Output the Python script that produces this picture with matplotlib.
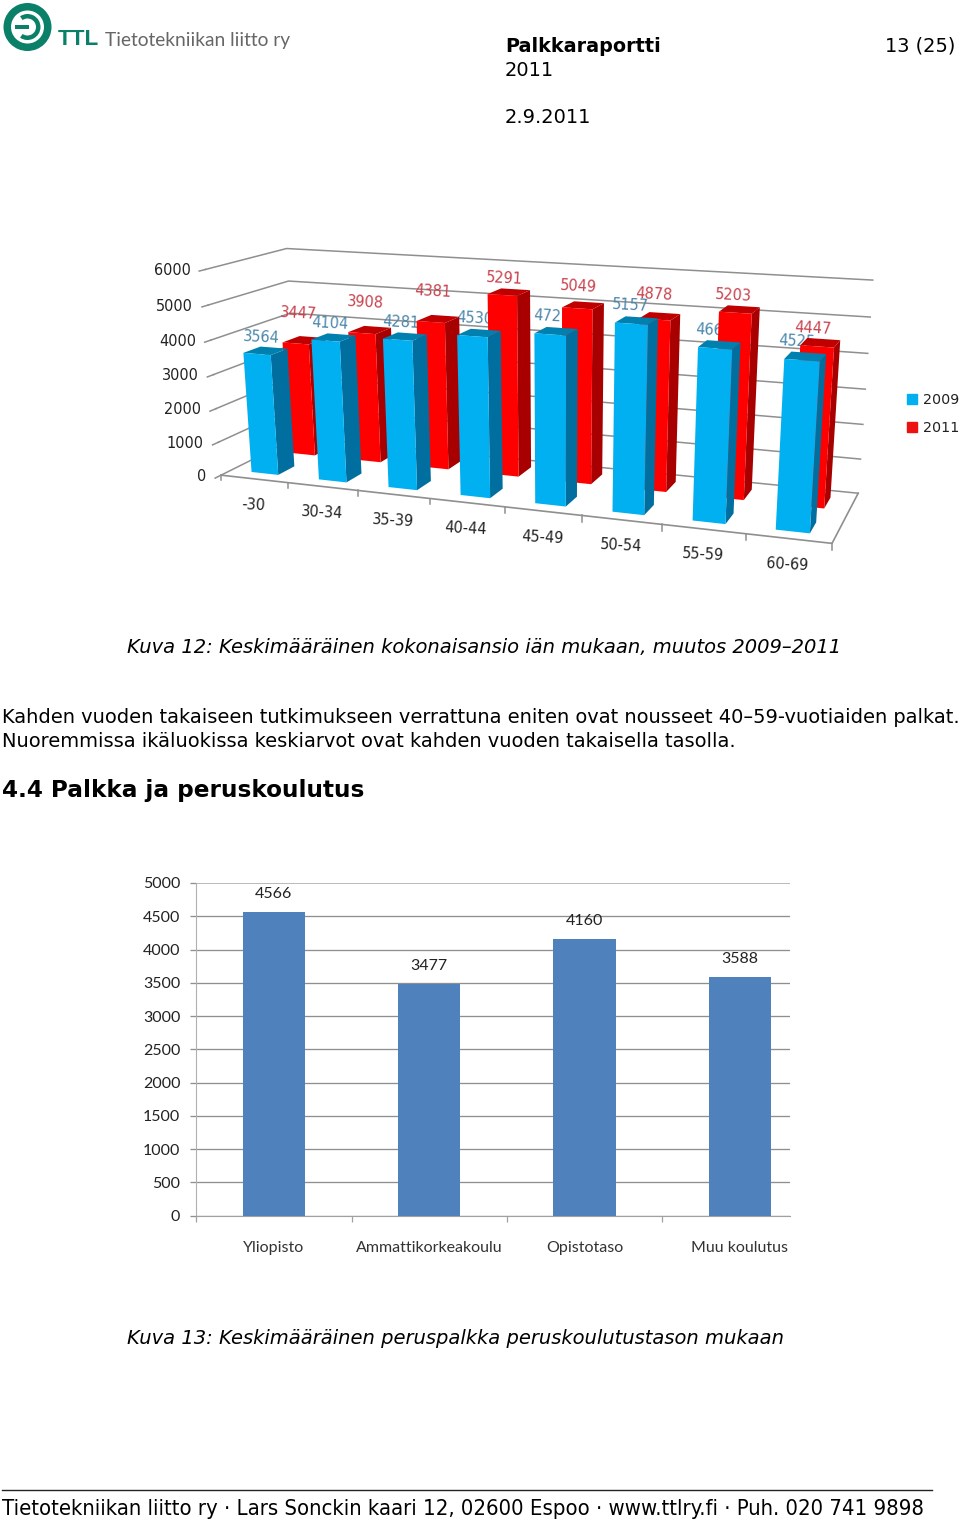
import numpy as np
import matplotlib
matplotlib.use("Agg")
import matplotlib.pyplot as plt
from matplotlib.patches import Polygon, Wedge, Rectangle, Patch

filename = "out.png"

#######data
ages = ["-30", "30-34", "35-39", "40-44", "45-49", "50-54", "55-59", "60-69"]
pay2009 = [3564, 4104, 4281, 4530, 4727, 5157, 4669, 4525]
pay2011 = [3447, 3908, 4381, 5291, 5049, 4878, 5203, 4447]
ticks3d = [0, 1000, 2000, 3000, 4000, 5000, 6000]

edu = ["Yliopisto", "Ammattikorkeakoulu", "Opistotaso", "Muu koulutus"]
edupay = [4566, 3477, 4160, 3588]
ticks2d = [0, 500, 1000, 1500, 2000, 2500, 3000, 3500, 4000, 4500, 5000]

#######camera of the 3d chart: (category, depth, value) -> page pixel
world = [(0, 0, 0), (1, 0, 0), (2, 0, 0), (3, 0, 0), (4, 0, 0), (5, 0, 0), (6, 0, 0), (7, 0, 0),
         (8, 0, 0), (8, 1, 0), (0, 1, 0), (0, 0, 6000), (0, 1, 6000), (8, 1, 6000)]
page = [(220, 475), (288, 483), (358, 491), (430, 499), (505, 507), (582, 516), (662, 525), (746, 533),
        (832, 542), (858, 494), (299, 436), (207, 269), (285, 249), (873, 280)]

#label nudges in pixels, excel moved these around by itself
nudge2009 = [(4, -4), (3, -4), (2, -4), (1, -4), (1, -4), (-2, -4), (-3, -4), (-7, -4)]
nudge2011 = [(5, -16), (6, -16), (4, -16), (4, -1), (2, -6), (0, -9), (-2, -1), (-4, -2)]


def fit_camera(world, page):
    #plain DLT, scaled so the numbers stay near 1
    rows = []
    for (x, d, v), (u, w) in zip(world, page):
        X = [x / 8, d, v / 6000, 1]
        u, w = u / 1000, w / 1000
        rows.append(X + [0, 0, 0, 0] + [-u * c for c in X])
        rows.append([0, 0, 0, 0] + X + [-w * c for c in X])
    return np.linalg.svd(np.array(rows))[2][-1].reshape(3, 4)


P = fit_camera(world, page)


def pr(x, d, v):
    h = P @ np.array([x / 8, d, v / 6000, 1])
    return (1000 * h[0] / h[2], 1000 * h[1] / h[2])


def px(n):
    #font size for n pixels at dpi 100
    return n * 0.72


fig = plt.figure(figsize=(9.6, 15.2), dpi=100)
ax = fig.add_axes([0, 0, 1, 1])
ax.set_xlim(0, 960)
ax.set_ylim(1520, 0)
ax.axis("off")

#######page text
BODY = 19.4
ax.text(505, 52, "Palkkaraportti", fontsize=px(19.2), fontweight="bold")
ax.text(505, 76, "2011", fontsize=px(BODY))
ax.text(505, 123, "2.9.2011", fontsize=px(BODY))
ax.text(955, 52, "13 (25)", fontsize=px(BODY), ha="right")
ax.text(127, 653, "Kuva 12: Keskimääräinen kokonaisansio iän mukaan, muutos 2009–2011",
        fontsize=px(19.5), style="italic")
ax.text(2, 723, "Kahden vuoden takaiseen tutkimukseen verrattuna eniten ovat nousseet 40–59-vuotiaiden palkat.",
        fontsize=px(BODY))
ax.text(2, 747, "Nuoremmissa ikäluokissa keskiarvot ovat kahden vuoden takaisella tasolla.", fontsize=px(BODY))
ax.text(2, 797, "4.4 Palkka ja peruskoulutus", fontsize=px(23.1), fontweight="bold")
ax.text(127, 1344, "Kuva 13: Keskimääräinen peruspalkka peruskoulutustason mukaan", fontsize=px(19.5), style="italic")
ax.plot([2, 932], [1490, 1490], color="#222222", lw=1.0)
ax.text(2, 1515, "Tietotekniikan liitto ry · Lars Sonckin kaari 12, 02600 Espoo · www.ttlry.fi · Puh. 020 741 9898",
        fontsize=px(22), fontstretch="condensed", family=["DejaVu Sans"])

#######logo
GREEN = "#0a8069"
ax.add_patch(Wedge((27.5, 27), 24, 0, 360, width=7.5, color=GREEN, lw=0))
ax.add_patch(Wedge((27.5, 27), 13, -125, 125, width=4.5, color=GREEN, lw=0))
ax.add_patch(Rectangle((15, 25), 14, 4, color=GREEN, lw=0))
ax.text(58, 45, "TTL", color=GREEN, fontsize=px(22.5), fontweight="bold", family="Liberation Sans")
ax.text(105, 46, "Tietotekniikan liitto ry", color="#666666", fontsize=px(19.2), family="Lato")

#######3d chart
GRID3 = "#8f8f8f"
for v in ticks3d:
    a, b, c = pr(0, 0, v), pr(0, 1, v), pr(8, 1, v)
    ax.plot([a[0], b[0], c[0]], [a[1], b[1], c[1]], color=GRID3, lw=1.1, zorder=1)
    t = pr(0, -0.07, v)
    ax.plot([a[0], t[0]], [a[1], t[1]], color=GRID3, lw=1.1, zorder=1)
    ax.text(a[0] - 15, a[1] + 1, str(v), fontsize=px(14.5), color="#222222", ha="right", va="center", zorder=6)
corners = [pr(0, 0, 0), pr(8, 0, 0), pr(8, 1, 0)]
ax.plot(*zip(*corners), color=GRID3, lw=1.2, zorder=1)
for i in range(9):
    a, t = pr(i, 0, 0), pr(i, -0.12, 0)
    ax.plot([a[0], a[0]], [a[1], t[1]], color=GRID3, lw=1.1, zorder=1)
for i, name in enumerate(ages):
    a = pr(i + 0.5, 0, 0)
    ax.text(a[0] - 1, a[1] + 26, name, fontsize=px(14.5), color="#222222", ha="center", va="center",
            rotation=-3, rotation_mode="anchor", zorder=6)


def bar3d(x0, x1, d0, d1, v, front, side, top, z):
    ax.add_patch(Polygon([pr(x1, d0, 0), pr(x1, d1, 0), pr(x1, d1, v), pr(x1, d0, v)], color=side, lw=0, zorder=z))
    ax.add_patch(Polygon([pr(x0, d0, v), pr(x1, d0, v), pr(x1, d1, v), pr(x0, d1, v)], color=top, lw=0, zorder=z))
    ax.add_patch(Polygon([pr(x0, d0, 0), pr(x1, d0, 0), pr(x1, d0, v), pr(x0, d0, v)], color=front, lw=0, zorder=z))


BLUE, BLUE_SIDE, BLUE_TOP = "#00b0f0", "#006f9f", "#0080ae"
RED, RED_SIDE, RED_TOP = "#ff0000", "#a80000", "#c00000"
for i in range(len(ages)):
    l = pr(i + 0.5, 0.15, pay2009[i] + 350)
    ax.text(l[0] + nudge2009[i][0], l[1] + nudge2009[i][1], str(pay2009[i]), fontsize=px(14.5), color="#4a86ab",
            ha="center", va="center", rotation=-3, rotation_mode="anchor", zorder=2)
    bar3d(i + 0.3, i + 0.7, 0.62, 0.85, pay2011[i], RED, RED_SIDE, RED_TOP, 3)
    l = pr(i + 0.5, 0.6, pay2011[i] + 450)
    ax.text(l[0] + nudge2011[i][0], l[1] + nudge2011[i][1], str(pay2011[i]), fontsize=px(14.5), color="#c8404c",
            ha="center", va="center", rotation=-3, rotation_mode="anchor", zorder=6)
for i in range(len(ages)):
    bar3d(i + 0.3, i + 0.7, 0.13, 0.34, pay2009[i], BLUE, BLUE_SIDE, BLUE_TOP, 4)

fig.legend(handles=[Patch(color=BLUE, label="2009"), Patch(color="#ee1111", label="2011")],
           loc="upper left", bbox_to_anchor=(907 / 960, 1 - 393 / 1520), frameon=False,
           fontsize=px(14.2), handlelength=0.7, handleheight=0.7, handletextpad=0.4, labelspacing=1.0,
           labelcolor="#222222", borderpad=0, borderaxespad=0)

#######2d chart
ax2 = fig.add_axes([196.3 / 960, 1 - 1215.7 / 1520, (790 - 196.3) / 960, (1215.7 - 883) / 1520])
ax2.patch.set_alpha(0)
xpos = np.arange(len(edu))
bars = ax2.bar(xpos, edupay, width=0.4, color="#4f81bd", zorder=3)
ax2.bar_label(bars, padding=8, fontsize=px(16), color="#222222", family="Lato")
ax2.set_xlim(-0.5, 3.323)
ax2.set_ylim(0, 5000)
ax2.set_yticks(ticks2d)
ax2.set_xticks(xpos)
ax2.set_xticklabels(edu, fontsize=px(16), color="#333333", family="Lato")
ax2.set_xticks(xpos - 0.5, minor=True)
ax2.tick_params(axis="x", which="major", length=0, pad=18)
ax2.tick_params(axis="x", which="minor", length=4, color="#a0a0a0", width=0.9)
ax2.tick_params(axis="y", length=4.5, color="#8f8f8f", width=0.95, pad=7, labelsize=px(16), labelcolor="#222222")
for t in ax2.get_yticklabels():
    t.set_family("Lato")
ax2.grid(axis="y", color="#8f8f8f", lw=0.95, zorder=0)
ax2.get_ygridlines()[-1].set_color("#b4b4b4")
ax2.get_ygridlines()[-1].set_linewidth(1.3)
for s in ["top", "right"]:
    ax2.spines[s].set_visible(False)
ax2.spines["left"].set_color("#b0b0b0")
ax2.spines["bottom"].set_color("#a0a0a0")

plt.savefig(filename, dpi=100)
